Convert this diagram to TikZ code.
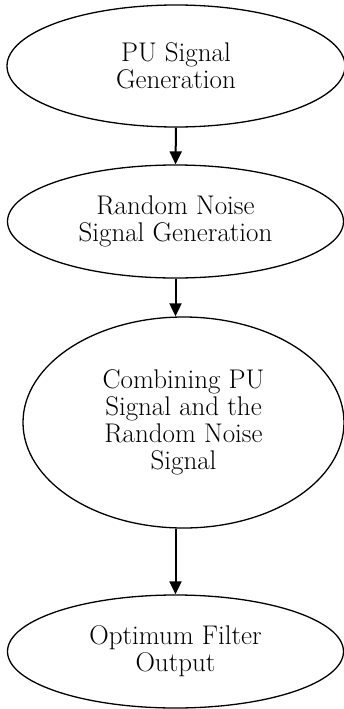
\documentclass[tikz,border=0pt]{standalone}
\usetikzlibrary{shapes.geometric,arrows.meta}
\begin{document}
\begin{tikzpicture}[x=1pt,y=1pt,
  bubble/.style={draw=black, line width=1.3pt, ellipse, inner sep=0pt, align=center,
    font=\fontsize{27}{27}\selectfont},
  arr/.style={draw=black, line width=2pt, -{Triangle[width=12pt,length=13pt]}}]
\useasboundingbox (0,0) rectangle (343,-709);
\node[bubble, minimum width=338pt, minimum height=122pt] (e1) at (176,-66) {PU Signal\\Generation};
\node[bubble, minimum width=336pt, minimum height=113pt] (e2) at (175.5,-221.5) {Random Noise\\Signal Generation};
\node[bubble, minimum width=321pt, minimum height=211pt] (e3) at (183.5,-422.5) {Combining PU\\Signal and the\\Random Noise\\Signal};
\node[bubble, minimum width=336pt, minimum height=113pt] (e4) at (175.5,-651.5) {Optimum Filter\\Output};
\draw[arr] (e1.south) -- (e2.north);
\draw[arr] (e2.south) -- (e2.south |- e3.north);
\draw[arr] (e3.south -| e4.north) -- (e4.north);
\end{tikzpicture}
\end{document}
